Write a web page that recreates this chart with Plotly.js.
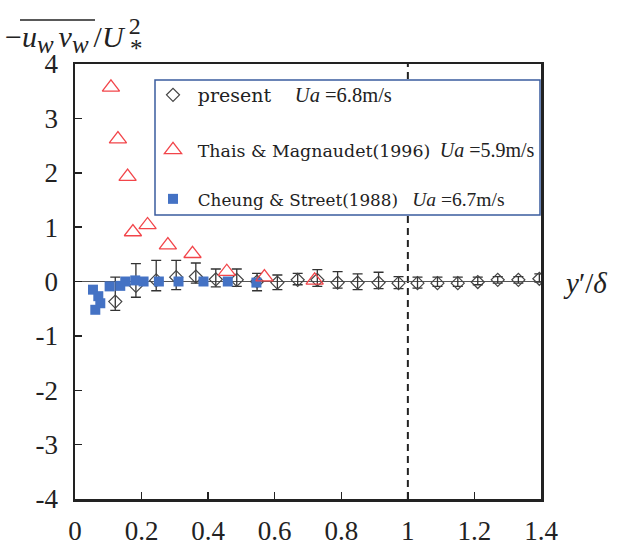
<!DOCTYPE html>
<html>
<head>
<meta charset="utf-8">
<script src="https://cdn.plot.ly/plotly-3.0.1.min.js"></script>
<style>html,body{margin:0;padding:0;background:#fff;}#chart{width:620px;height:551px;}</style>
</head>
<body>
<div id="chart"></div>
<script>
// ---- data ----
const presentX = [0.121, 0.183, 0.244, 0.304, 0.363, 0.423, 0.486, 0.547, 0.608, 0.669, 0.728, 0.789, 0.849, 0.912, 0.972, 1.029, 1.089, 1.150, 1.210, 1.270, 1.332, 1.395];
const presentY = [-0.37, -0.08, 0.02, 0.08, 0.09, 0.04, 0.03, 0.00, -0.02, 0.03, 0.03, -0.02, -0.02, -0.02, -0.03, -0.03, -0.03, -0.03, -0.01, 0.03, 0.03, 0.05];
const presentErrPlus = [0.45, 0.41, 0.37, 0.31, 0.25, 0.19, 0.20, 0.15, 0.14, 0.12, 0.19, 0.20, 0.16, 0.19, 0.12, 0.11, 0.11, 0.11, 0.09, 0.06, 0.06, 0.09];
const presentErrMinus = [0.16, 0.21, 0.19, 0.23, 0.12, 0.14, 0.12, 0.17, 0.13, 0.09, 0.12, 0.10, 0.13, 0.11, 0.10, 0.09, 0.06, 0.06, 0.05, 0.06, 0.06, 0.06];

const thaisX = [0.108, 0.129, 0.158, 0.174, 0.218, 0.279, 0.353, 0.456, 0.569, 0.720];
const thaisY = [3.57, 2.62, 1.93, 0.91, 1.04, 0.67, 0.51, 0.18, 0.08, 0.02];

const cheungX = [0.054, 0.070, 0.076, 0.061, 0.104, 0.136, 0.151, 0.181, 0.206, 0.252, 0.311, 0.386, 0.459, 0.545];
const cheungY = [-0.15, -0.27, -0.40, -0.52, -0.09, -0.08, 0.00, 0.02, 0.00, 0.00, 0.00, 0.00, 0.00, -0.02];

const yTickVals = [-4, -3, -2, -1, 0, 1, 2, 3, 4];
const yTickText = ["-4", "-3", "-2", "-1", "0", "1", "2", "3", "4"];
const xTickVals = [0, 0.2, 0.4, 0.6, 0.8, 1, 1.2, 1.4];
const xTickText = ["0", "0.2", "0.4", "0.6", "0.8", "1", "1.2", "1.4"];
const boundaryX = 1.0;

const NB = "\u00A0";
const SP = "\u2006";
const legPresent = NB + '<span style="font-family:DejaVu Serif;font-size:19px">present</span>' + NB.repeat(5) +
  '<span style="font-family:Liberation Serif;font-size:20.5px"><i>Ua</i> =6.8m/s</span>';
const legThais = NB + '<span style="font-family:DejaVu Serif;font-size:17.4px">Thais &amp; Magnaudet(1996)</span>' + NB.repeat(2) +
  '<span style="font-family:Liberation Serif;font-size:20px"><i>Ua</i> =5.9m/s</span>';
const legCheung = NB + '<span style="font-family:DejaVu Serif;font-size:16.8px">Cheung &amp; Street(1988)</span>' + NB.repeat(3) +
  '<span style="font-family:Liberation Serif;font-size:19.5px"><i>Ua</i> =6.7m/s</span>';

const yTitle = '\u2212<i>u</i><sub><span style="font-size:25px"><i>w</i></span></sub>' + SP +
  '<i>v</i><sub><span style="font-size:25px"><i>w</i></span></sub>' + SP + '/<i>U</i>' + SP +
  '<sup><span style="font-size:24px">2</span></sup>';

const traces = [
  {
    x: presentX, y: presentY, type: 'scatter', mode: 'markers', name: legPresent, legend: 'legend',
    marker: {symbol: 'diamond-open', size: 10, color: '#444', line: {width: 1.2, color: '#444'}},
    error_y: {type: 'data', symmetric: false, array: presentErrPlus, arrayminus: presentErrMinus,
              color: '#333', thickness: 1.3, width: 5}
  },
  {
    x: cheungX, y: cheungY, type: 'scatter', mode: 'markers', name: legCheung, legend: 'legend3',
    marker: {symbol: 'square', size: 10, color: '#4472C4', line: {width: 0}}
  },
  {
    x: thaisX, y: thaisY, type: 'scatter', mode: 'markers', name: legThais, legend: 'legend2',
    marker: {symbol: 'triangle-up-open', size: 15, color: '#F2454A', line: {width: 1.3, color: '#F2454A'}}
  }
];

function px2paperX(p) { return (p - 75) / 466; }
function px2paperY(p) { return (499 - p) / 435; }

const legendCommon = {
  bgcolor: 'rgba(0,0,0,0)', borderwidth: 0, xanchor: 'left', yanchor: 'middle',
  font: {family: 'Liberation Serif', size: 19, color: '#222'}, itemwidth: 30
};

const layout = {
  width: 620, height: 551,
  margin: {l: 75, r: 79, t: 64, b: 52},
  paper_bgcolor: '#fff', plot_bgcolor: '#fff',
  showlegend: true,
  font: {family: 'Liberation Serif', color: '#222'},
  xaxis: {
    range: [0, 1.4], tickvals: xTickVals, ticktext: xTickText,
    ticks: 'inside', ticklen: 7, tickwidth: 1.5, tickcolor: '#222',
    showline: true, linecolor: '#222', linewidth: 2.5, mirror: true,
    showgrid: false, zeroline: false, ticklabelstandoff: 6,
    tickfont: {family: 'Liberation Serif', size: 27, color: '#222'}
  },
  yaxis: {
    range: [-4, 4], tickvals: yTickVals, ticktext: yTickText,
    ticks: 'inside', ticklen: 7, tickwidth: 1.5, tickcolor: '#222',
    showline: true, linecolor: '#222', linewidth: 2.5, mirror: true,
    showgrid: false, zeroline: true, zerolinecolor: '#555', zerolinewidth: 1.5,
    ticklabelstandoff: 9,
    tickfont: {family: 'Liberation Serif', size: 27, color: '#222'}
  },
  legend: Object.assign({}, legendCommon, {x: px2paperX(153), y: px2paperY(95)}),
  legend2: Object.assign({}, legendCommon, {x: px2paperX(153), y: px2paperY(150)}),
  legend3: Object.assign({}, legendCommon, {x: px2paperX(153), y: px2paperY(199)}),
  shapes: [
    {type: 'line', xref: 'x', yref: 'paper', x0: boundaryX, x1: boundaryX, y0: 0, y1: 1,
     line: {color: '#222', width: 2, dash: '7px,5px'}, layer: 'below'},
    {type: 'rect', xref: 'paper', yref: 'paper', x0: px2paperX(155), x1: px2paperX(540),
     y0: px2paperY(215), y1: px2paperY(80), fillcolor: '#fff',
     line: {color: '#3A5C9E', width: 1.5}, layer: 'above'},
    {type: 'line', xref: 'paper', yref: 'paper', x0: px2paperX(20), x1: px2paperX(95),
     y0: px2paperY(20), y1: px2paperY(20), line: {color: '#222', width: 1.3}}
  ],
  annotations: [
    {xref: 'paper', yref: 'paper', x: px2paperX(3), y: px2paperY(35), xanchor: 'left', yanchor: 'middle',
     showarrow: false, font: {family: 'Liberation Serif', size: 30, color: '#222'}, text: yTitle},
    {xref: 'paper', yref: 'paper', x: px2paperX(128), y: px2paperY(49), xanchor: 'left', yanchor: 'middle',
     showarrow: false, font: {family: 'Liberation Serif', size: 25, color: '#222'}, text: '*'},
    {xref: 'paper', yref: 'paper', x: px2paperX(561), y: px2paperY(283), xanchor: 'left', yanchor: 'middle',
     showarrow: false, font: {family: 'Liberation Serif', size: 29, color: '#222'},
     text: '<i>y</i>\u2032/<i>\u03b4</i>'}
  ]
};

Plotly.newPlot('chart', traces, layout, {displayModeBar: false, staticPlot: true});
</script>
</body>
</html>
